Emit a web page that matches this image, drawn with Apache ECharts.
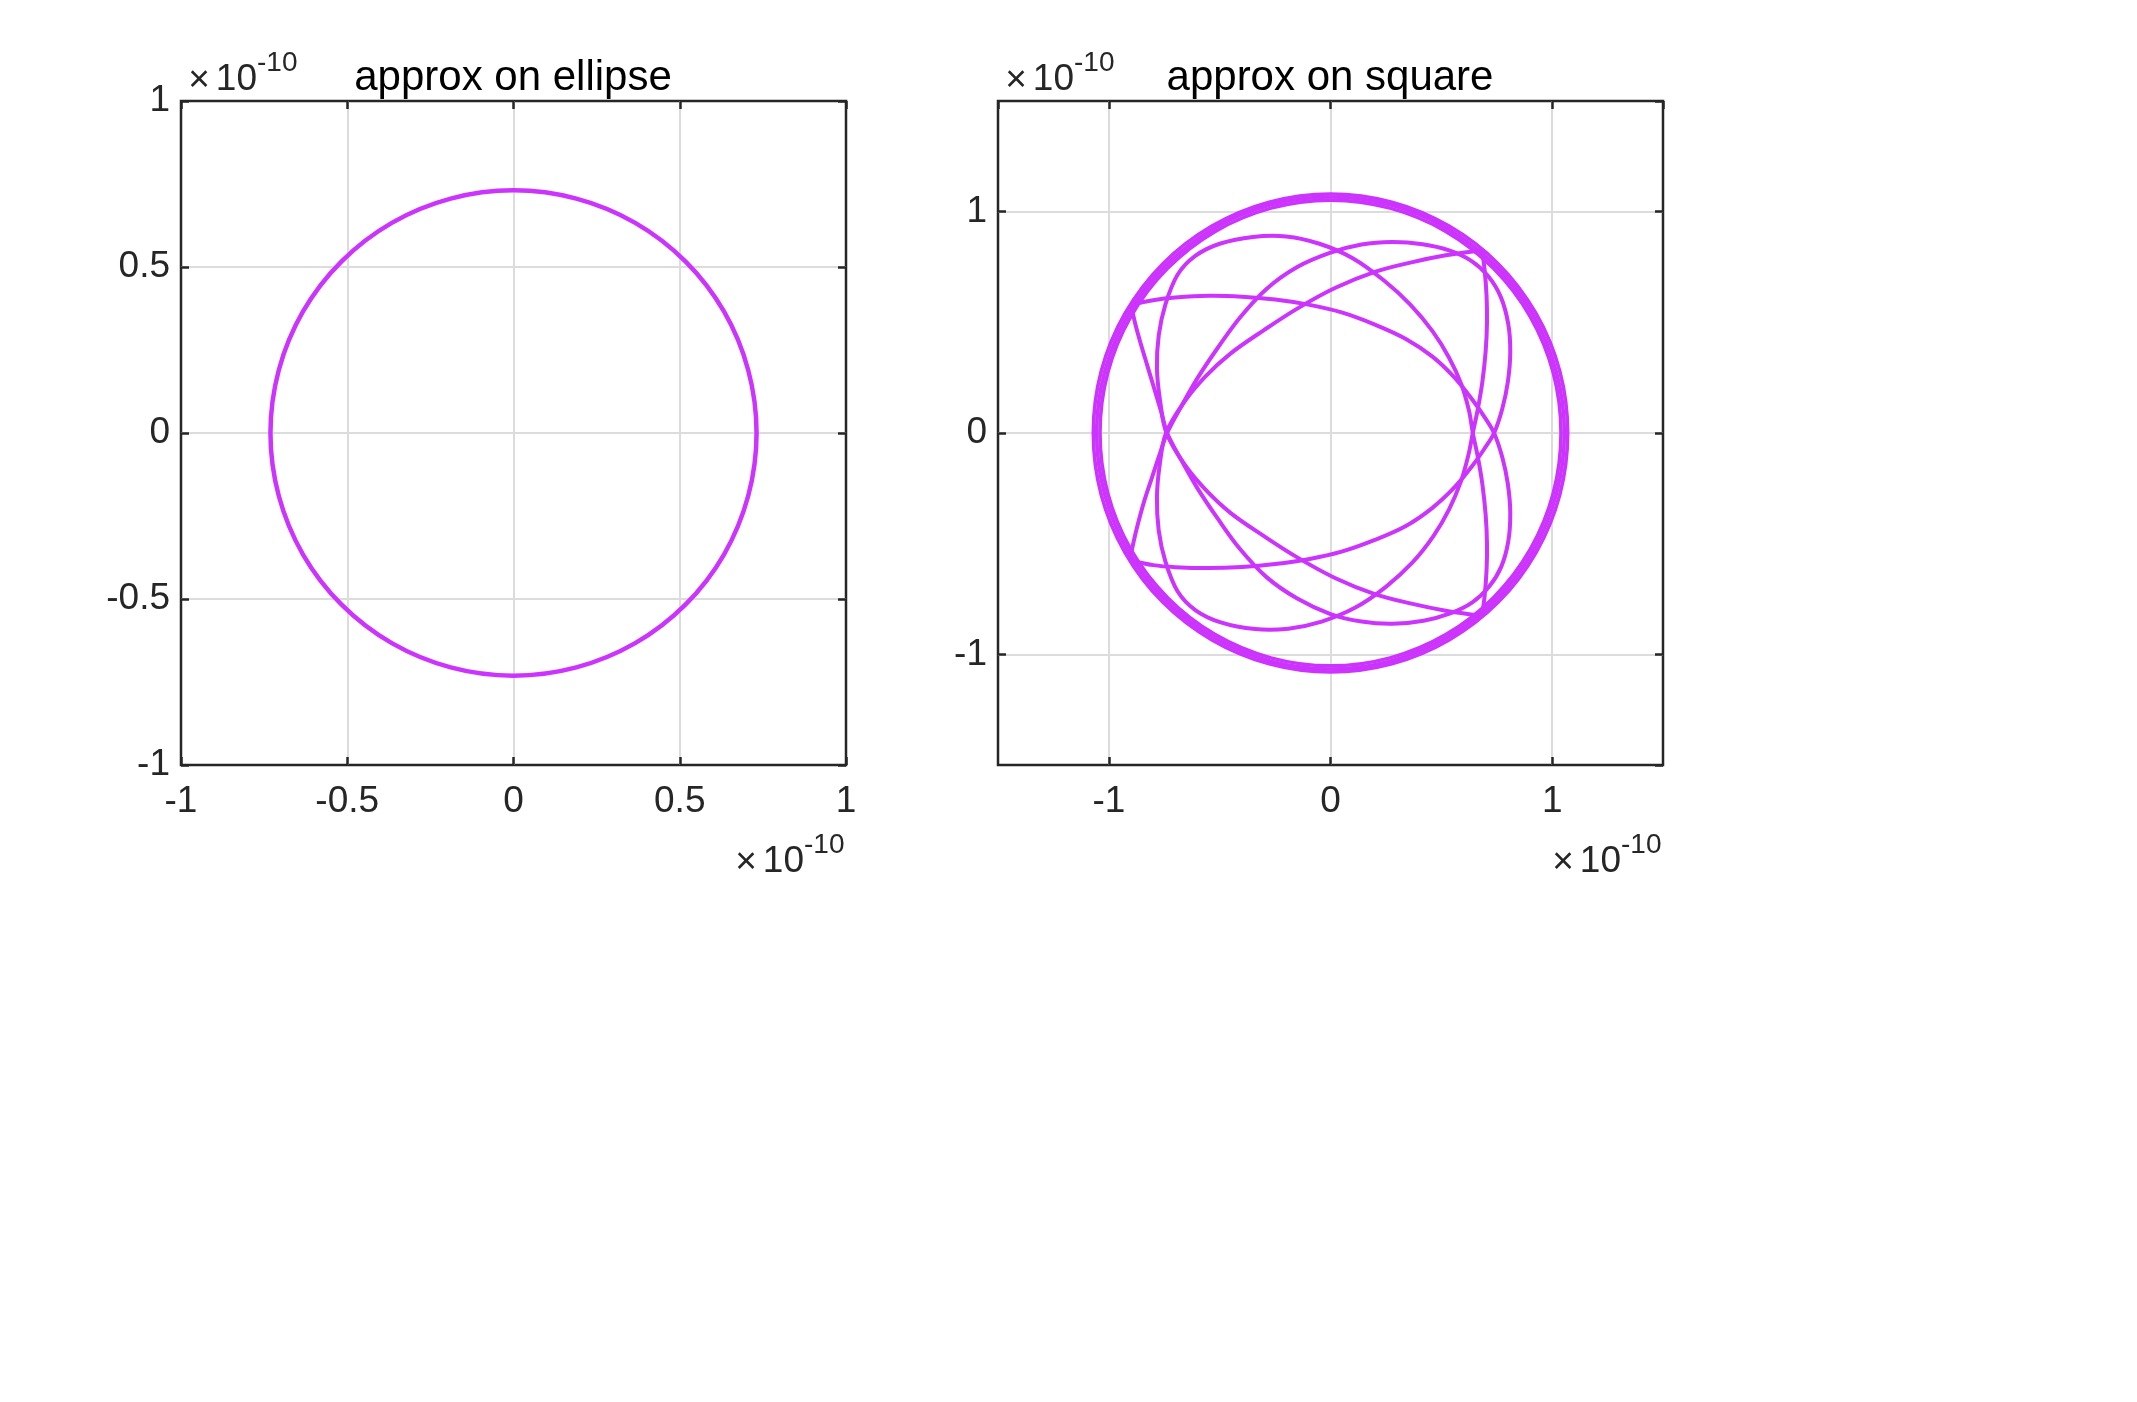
<!DOCTYPE html>
<html>
<head>
<meta charset="utf-8">
<title>approx on ellipse / approx on square</title>
<script src="https://cdn.jsdelivr.net/npm/echarts@6/dist/echarts.min.js"></script>
<style>
    html, body { margin: 0; padding: 0; background: #fff; }
    #chart { width: 2137px; height: 1402px; }
</style>
</head>
<body>
<div id="chart"></div>
<script>
// every value below is in units of 1e-10 (the "x10^-10" printed next to the axes)

// left panel: axis limits / tick step
const ellipseLim = [-1, 1];
const ellipseStep = 0.5;
// right panel: axis limits, ticks at -1, 0, 1
const squareLim = [-1.5, 1.5];
const squareTicks = [-1, 0, 1];

// left panel, the single closed loop
const ellipseLoop = [
    [0.731, 0], [0.706, 0.189], [0.633, 0.366], [0.517, 0.517], [0.366, 0.633], [0.189, 0.706],
    [0, 0.731], [-0.189, 0.706], [-0.366, 0.633], [-0.517, 0.517], [-0.633, 0.366], [-0.706, 0.189],
    [-0.731, 0], [-0.706, -0.189], [-0.633, -0.366], [-0.517, -0.517], [-0.366, -0.633], [-0.189, -0.706],
    [0, -0.731], [0.189, -0.706], [0.366, -0.633], [0.517, -0.517], [0.633, -0.366], [0.706, -0.189]
];

// right panel, the thick outer band (several laps close together, closed)
const squareRingA = [
    [1.040, 0], [1.005, 0.272], [0.901, 0.526], [0.735, 0.744], [0.520, 0.911], [0.269, 1.016],
    [0, 1.052], [-0.269, 1.016], [-0.520, 0.911], [-0.735, 0.744], [-0.901, 0.526], [-1.005, 0.272],
    [-1.040, 0], [-1.005, -0.272], [-0.901, -0.526], [-0.735, -0.744], [-0.520, -0.911], [-0.269, -1.016],
    [0, -1.052], [0.269, -1.016], [0.520, -0.911], [0.735, -0.744], [0.901, -0.526], [1.005, -0.272]
];
const squareRingB = [
    [1.055, 0], [1.019, 0.276], [0.914, 0.533], [0.746, 0.754], [0.528, 0.923], [0.273, 1.030],
    [0, 1.066], [-0.273, 1.030], [-0.528, 0.923], [-0.746, 0.754], [-0.914, 0.533], [-1.019, 0.276],
    [-1.055, 0], [-1.019, -0.276], [-0.914, -0.533], [-0.746, -0.754], [-0.528, -0.923], [-0.273, -1.030],
    [0, -1.066], [0.273, -1.030], [0.528, -0.923], [0.746, -0.754], [0.914, -0.533], [1.019, -0.276]
];
const squareRingC = [
    [1.070, 0], [1.034, 0.280], [0.927, 0.540], [0.757, 0.764], [0.535, 0.935], [0.277, 1.043],
    [0, 1.080], [-0.277, 1.043], [-0.535, 0.935], [-0.757, 0.764], [-0.927, 0.540], [-1.034, 0.280],
    [-1.070, 0], [-1.034, -0.280], [-0.927, -0.540], [-0.757, -0.764], [-0.535, -0.935], [-0.277, -1.043],
    [0, -1.080], [0.277, -1.043], [0.535, -0.935], [0.757, -0.764], [0.927, -0.540], [1.034, -0.280]
];

// right panel, inner excursions (each starts and ends at a corner on the band)
// A: upper-left corner -> across the top -> right crossing -> lower arc -> left crossing -> back up
const squareLoopA = [
    [-0.900, 0.580], [-0.800, 0.600], [-0.700, 0.612], [-0.550, 0.620], [-0.400, 0.616], [-0.250, 0.603],
    [-0.100, 0.580], [0.050, 0.545], [0.200, 0.490], [0.340, 0.425], [0.460, 0.345], [0.560, 0.250],
    [0.640, 0.150], [0.695, 0.072], [0.738, 0.000], [0.775, -0.110], [0.800, -0.230], [0.811, -0.360],
    [0.802, -0.490], [0.770, -0.605], [0.715, -0.695], [0.640, -0.765], [0.540, -0.815], [0.420, -0.848],
    [0.280, -0.862], [0.140, -0.852], [0.000, -0.818], [-0.150, -0.748], [-0.290, -0.650], [-0.410, -0.522],
    [-0.510, -0.385], [-0.600, -0.250], [-0.670, -0.128], [-0.737, 0.000], [-0.765, 0.100], [-0.795, 0.200],
    [-0.825, 0.300], [-0.855, 0.400], [-0.880, 0.490], [-0.900, 0.580]
];
// B: mirror of A through the lower-left corner
const squareLoopB = [
    [-0.905, -0.575], [-0.800, -0.597], [-0.700, -0.606], [-0.550, -0.610], [-0.400, -0.605], [-0.250, -0.592],
    [-0.100, -0.570], [0.050, -0.536], [0.200, -0.483], [0.340, -0.420], [0.460, -0.338], [0.560, -0.245],
    [0.640, -0.148], [0.695, -0.070], [0.738, 0.000], [0.775, 0.110], [0.800, 0.230], [0.811, 0.365],
    [0.802, 0.492], [0.768, 0.615], [0.710, 0.710], [0.635, 0.778], [0.535, 0.825], [0.415, 0.853],
    [0.278, 0.863], [0.140, 0.852], [0.000, 0.815], [-0.150, 0.750], [-0.290, 0.650], [-0.410, 0.520],
    [-0.510, 0.383], [-0.600, 0.248], [-0.670, 0.126], [-0.737, 0.000], [-0.772, -0.100], [-0.805, -0.200],
    [-0.838, -0.300], [-0.866, -0.400], [-0.888, -0.490], [-0.905, -0.575]
];
// C: upper-right corner -> down to the right crossing -> under the bottom -> up the left -> back
const squareLoopC = [
    [0.683, 0.826], [0.695, 0.740], [0.704, 0.620], [0.706, 0.500], [0.700, 0.370], [0.685, 0.230],
    [0.665, 0.110], [0.642, 0.000], [0.622, -0.100], [0.588, -0.220], [0.535, -0.345], [0.465, -0.465],
    [0.370, -0.585], [0.250, -0.695], [0.110, -0.790], [-0.040, -0.852], [-0.190, -0.884], [-0.340, -0.886],
    [-0.495, -0.856], [-0.610, -0.800], [-0.690, -0.715], [-0.745, -0.580], [-0.775, -0.440], [-0.783, -0.290],
    [-0.770, -0.140], [-0.742, 0.000], [-0.660, 0.140], [-0.565, 0.255], [-0.450, 0.360], [-0.300, 0.465],
    [-0.150, 0.562], [0.020, 0.655], [0.200, 0.728], [0.360, 0.770], [0.520, 0.803], [0.683, 0.826]
];
// D: mirror of C through the lower-right corner
const squareLoopD = [
    [0.683, -0.826], [0.695, -0.740], [0.704, -0.620], [0.706, -0.500], [0.700, -0.370], [0.685, -0.230],
    [0.665, -0.110], [0.642, 0.000], [0.625, 0.100], [0.590, 0.220], [0.535, 0.340], [0.460, 0.460],
    [0.360, 0.580], [0.240, 0.690], [0.100, 0.790], [-0.050, 0.855], [-0.200, 0.888], [-0.350, 0.886],
    [-0.500, 0.855], [-0.610, 0.800], [-0.690, 0.715], [-0.745, 0.580], [-0.775, 0.440], [-0.783, 0.290],
    [-0.768, 0.140], [-0.740, 0.000], [-0.660, -0.140], [-0.565, -0.255], [-0.450, -0.362], [-0.300, -0.466],
    [-0.150, -0.562], [0.020, -0.655], [0.200, -0.728], [0.360, -0.770], [0.520, -0.803], [0.683, -0.826]
];

const FONT = '"Liberation Sans", Arial, Helvetica, sans-serif';
const INK = '#262626';
const PLOT = '#cc33ff';

function valueAxis(gridIndex, lim, step, position, withLabels, edgeLabels) {
    const isX = position === 'bottom' || position === 'top';
    let axis = {
        type: 'value',
        gridIndex: gridIndex,
        position: position,
        min: lim[0],
        max: lim[1],
        axisLine: { show: false, onZero: false },
        axisTick: { show: true, inside: true, length: 8, lineStyle: { color: INK, width: 2.5 } },
        axisLabel: {
            show: withLabels,
            color: INK,
            fontSize: 37,
            fontFamily: FONT,
            margin: isX ? 18 : 11,
            padding: isX ? 0 : [6, 0, 0, 0],
            showMinLabel: edgeLabels,
            showMaxLabel: edgeLabels
        },
        splitLine: {
            show: withLabels,
            showMinLine: false,
            showMaxLine: false,
            lineStyle: { color: '#dcdcdc', width: 2 }
        }
    };
    if (step) {
        axis.interval = step;
    } else {
        // lets echarts land on the integer ticks inside [-1.5, 1.5]
        axis.splitNumber = squareTicks.length;
    }
    return axis;
}

// one custom series per group of traces; points go through api.coord (the grid's own scales)
function traces(shapes, gridIndex, closed, width) {
    return {
        type: 'custom',
        coordinateSystem: 'cartesian2d',
        xAxisIndex: gridIndex * 2,
        yAxisIndex: gridIndex * 2,
        data: shapes.map(function (s, i) { return [s[0][0], s[0][1], i]; }),
        encode: { x: 0, y: 1 },
        silent: true,
        z: 3,
        renderItem: function (params, api) {
            const pts = shapes[api.value(2)].map(function (p) { return api.coord(p); });
            return {
                type: closed ? 'polygon' : 'polyline',
                shape: { points: pts, smooth: 0.35 },
                style: { stroke: PLOT, lineWidth: width, fill: 'none' }
            };
        }
    };
}

function label(text, x, y, size, align, color) {
    return {
        type: 'text',
        x: x,
        y: y,
        silent: true,
        style: {
            text: text,
            fill: color || INK,
            font: size + 'px ' + FONT,
            textAlign: align,
            textVerticalAlign: 'middle'
        }
    };
}

// "x10^-10" exponent marker, xr = right edge of the "10"
function exponent(xr, baseY, supY) {
    return [
        label('\u00d7', xr - 58, baseY + 1, 37, 'center'),
        label('10', xr, baseY, 37, 'right'),
        label('-10', xr, supY, 28, 'left')
    ];
}

function drawChart() {
    const chart = echarts.init(document.getElementById('chart'), null, { renderer: 'canvas' });
    const gridBox = { top: 101, width: 665, height: 664, show: true, borderColor: INK, borderWidth: 2.5,
        backgroundColor: 'transparent', containLabel: false, outerBoundsMode: 'none' };

    chart.setOption({
        animation: false,
        backgroundColor: '#fff',
        grid: [
            Object.assign({ left: 181 }, gridBox),
            Object.assign({ left: 998 }, gridBox)
        ],
        xAxis: [
            valueAxis(0, ellipseLim, ellipseStep, 'bottom', true, true),
            valueAxis(0, ellipseLim, ellipseStep, 'top', false, true),
            valueAxis(1, squareLim, null, 'bottom', true, false),
            valueAxis(1, squareLim, null, 'top', false, false)
        ],
        yAxis: [
            valueAxis(0, ellipseLim, ellipseStep, 'left', true, true),
            valueAxis(0, ellipseLim, ellipseStep, 'right', false, true),
            valueAxis(1, squareLim, null, 'left', true, false),
            valueAxis(1, squareLim, null, 'right', false, false)
        ],
        series: [
            traces([ellipseLoop], 0, true, 4.5),
            traces([squareRingA, squareRingB, squareRingC], 1, true, 3.6),
            traces([squareLoopA, squareLoopB, squareLoopC, squareLoopD], 1, false, 4)
        ],
        graphic: [
            label('approx on ellipse', 513, 78, 42, 'center', '#000'),
            label('approx on square', 1330, 78, 42, 'center', '#000')
        ]
            .concat(exponent(257, 80, 63))
            .concat(exponent(804, 862, 845))
            .concat(exponent(1074, 80, 63))
            .concat(exponent(1621, 862, 845))
    });
    return chart;
}

drawChart();
</script>
</body>
</html>
